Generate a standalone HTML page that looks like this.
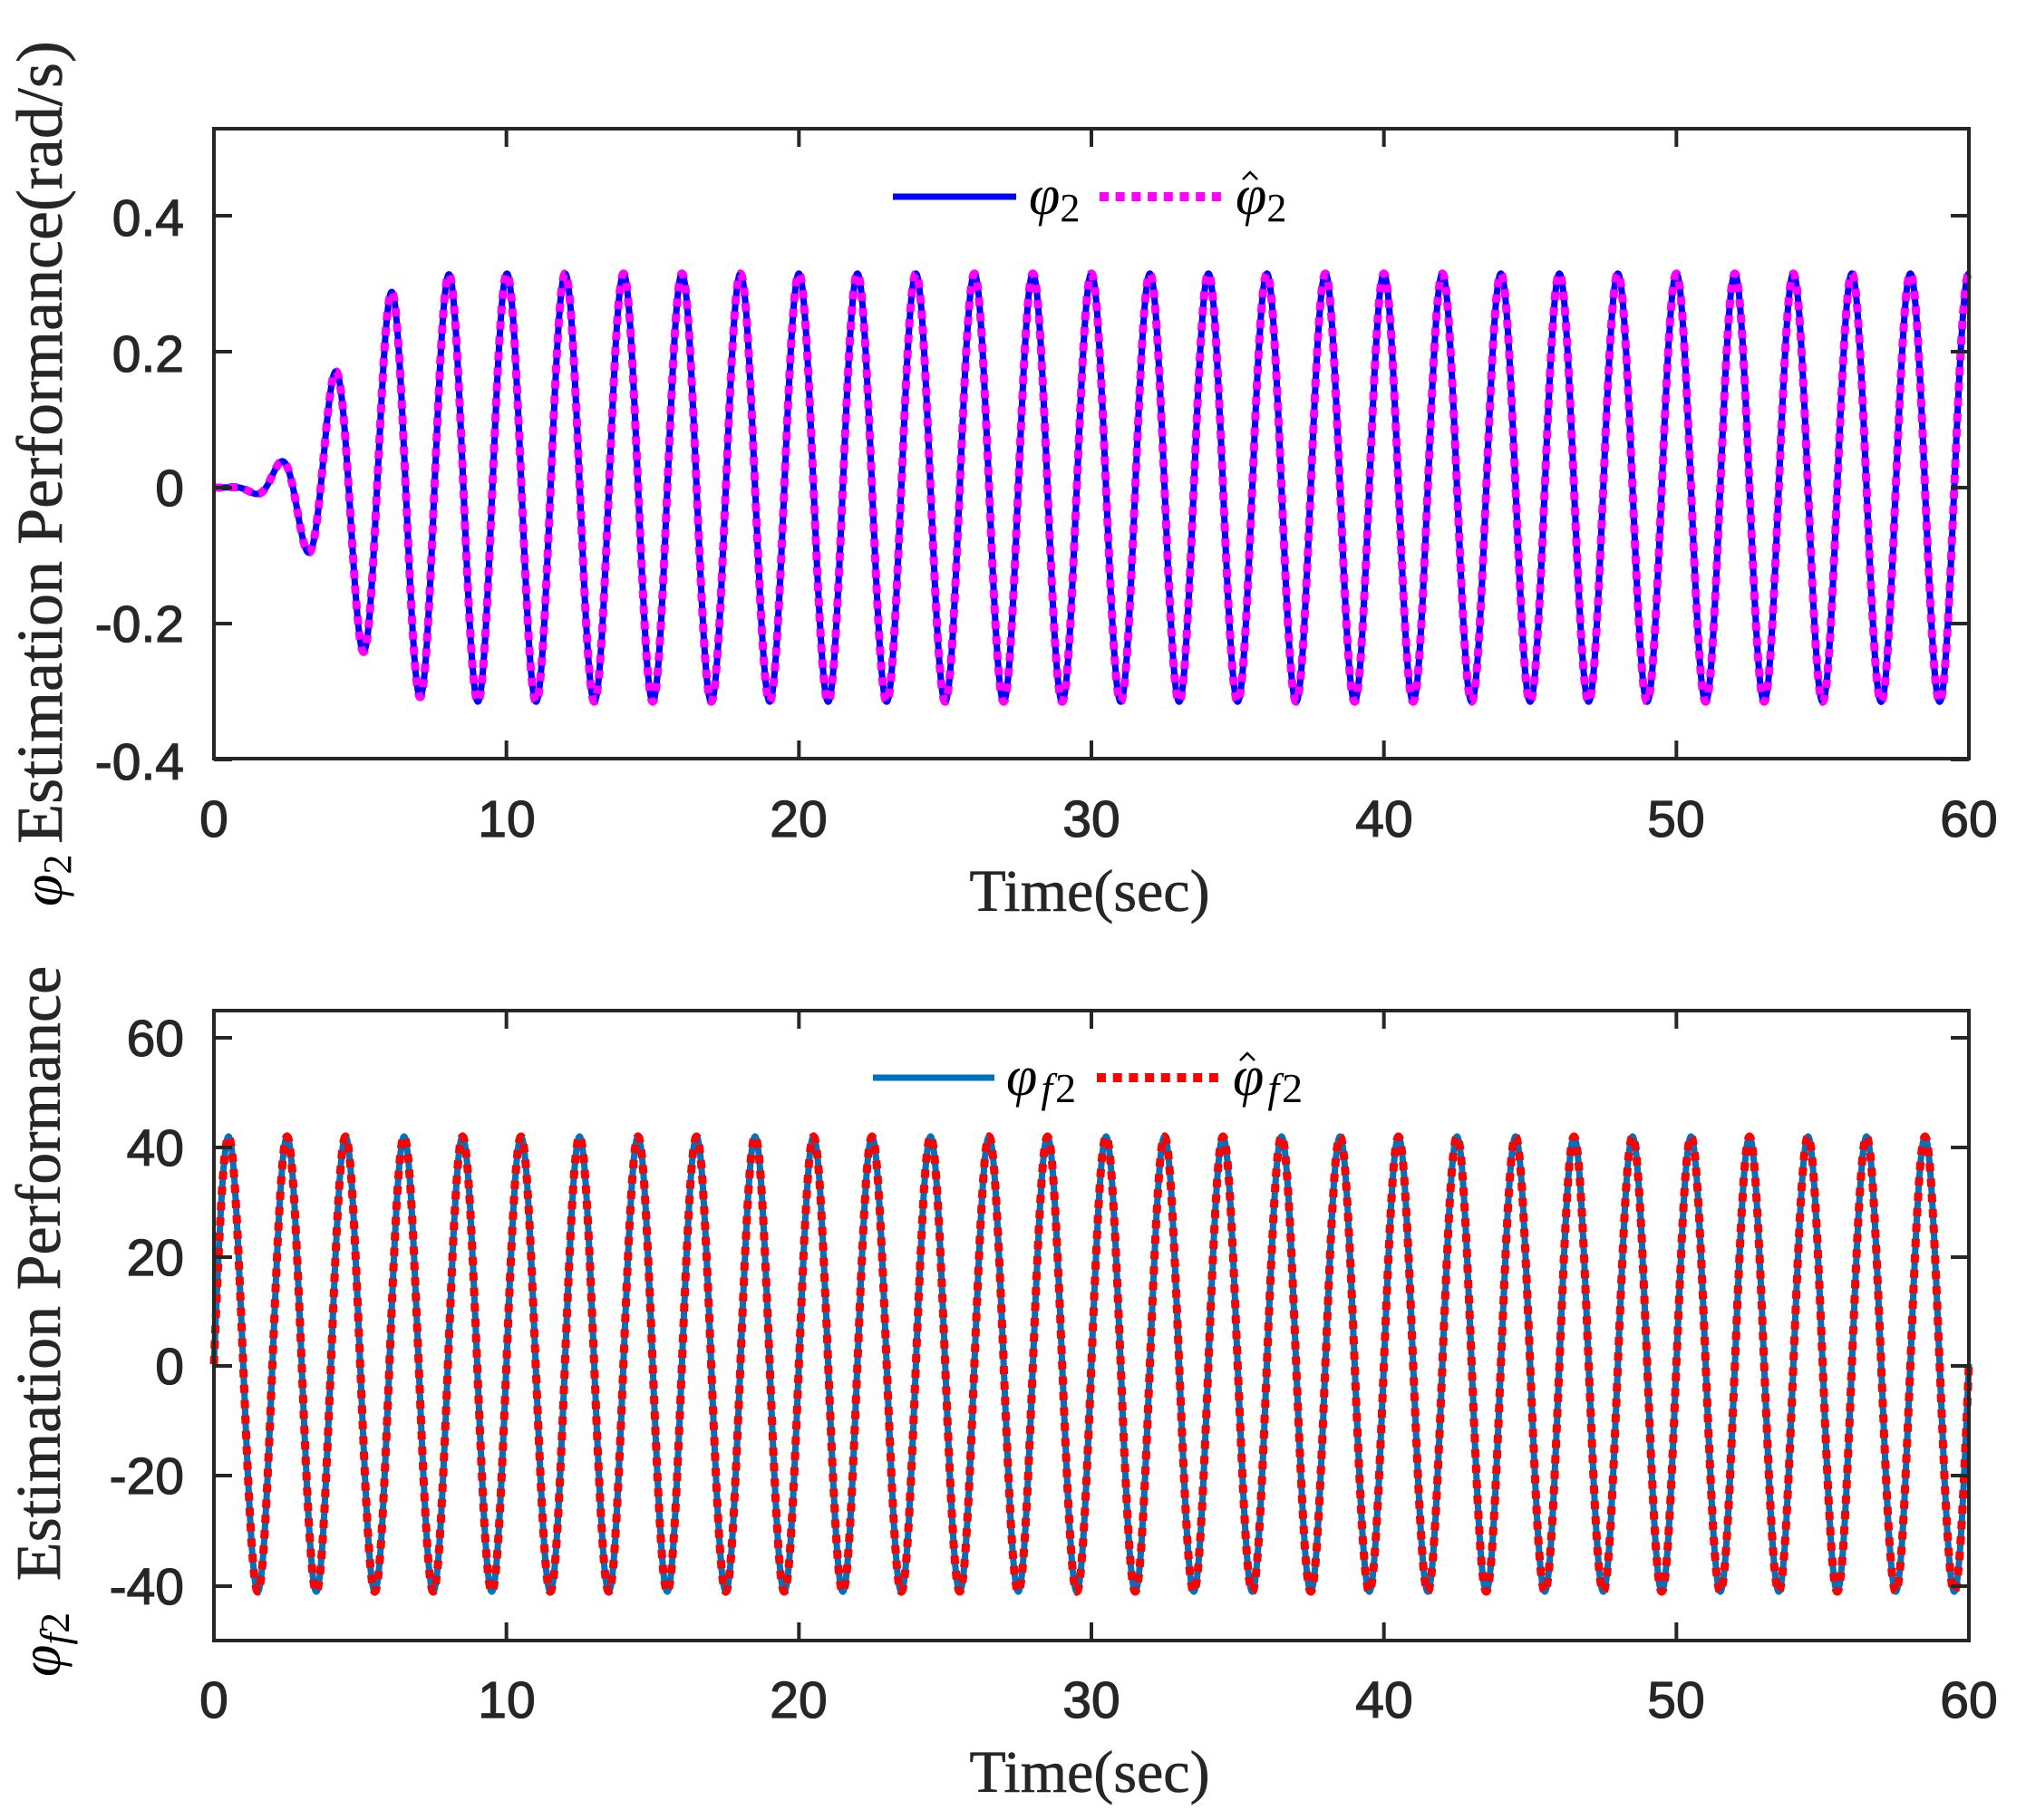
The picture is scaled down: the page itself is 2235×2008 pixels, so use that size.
<!DOCTYPE html>
<html><head><meta charset="utf-8"><style>
html,body{margin:0;padding:0;background:#fff;}
svg{display:block;}
.t{font-family:"Liberation Sans",Arial,sans-serif;font-size:57px;fill:#262626;stroke:#262626;stroke-width:1.2;}
.s{font-family:"Liberation Serif","Times New Roman",serif;font-size:66px;fill:#262626;stroke:#262626;stroke-width:0.6;}
.m{font-family:"Liberation Serif","Times New Roman",serif;font-style:italic;fill:#000;}
</style></head><body>
<svg id="c" width="2235" height="2008" viewBox="0 0 2235 2008" xmlns="http://www.w3.org/2000/svg">
<rect width="2235" height="2008" fill="#fff"/>
<g id="g1"></g>
<g id="g2"></g>
<rect x="236" y="142" width="1936" height="695" fill="none" stroke="#262626" stroke-width="4"/>
<g class="t" text-anchor="end">
<text x="203" y="260">0.4</text><text x="203" y="410">0.2</text><text x="203" y="558">0</text>
<text x="203" y="708">-0.2</text><text x="203" y="860">-0.4</text>
</g>
<g class="t" text-anchor="middle">
<text x="236" y="923">0</text><text x="559" y="923">10</text><text x="881" y="923">20</text><text x="1204" y="923">30</text>
<text x="1527" y="923">40</text><text x="1849" y="923">50</text><text x="2172" y="923">60</text>
</g>
<text class="s" x="1202" y="1005" text-anchor="middle">Time(sec)</text>
<text class="s" style="font-size:72px" transform="translate(68,488) rotate(-90)" text-anchor="middle">Estimation Performance(rad/s)</text>
<text class="m" font-size="64" transform="translate(68,1000) rotate(-90)">φ<tspan font-size="44" font-style="normal" dy="10">2</tspan></text>
<line x1="985" y1="217" x2="1121" y2="217" stroke="#0000ff" stroke-width="7"/>
<text class="m" x="1135" y="236" font-size="62">φ<tspan font-size="44" font-style="normal" dy="8">2</tspan></text>
<line x1="1213" y1="217" x2="1348" y2="217" stroke="#ff00ff" stroke-width="10" stroke-dasharray="10,7.7"/>
<text class="m" x="1363" y="236" font-size="62">φ<tspan font-size="44" font-style="normal" dy="8">2</tspan></text>
<path d="M1371 198 L1379 190 L1387 198" fill="none" stroke="#000" stroke-width="2.5"/>
<rect x="236" y="1115" width="1936" height="695" fill="none" stroke="#262626" stroke-width="4"/>
<g class="t" text-anchor="end">
<text x="203" y="1165">60</text><text x="203" y="1286">40</text><text x="203" y="1407">20</text><text x="203" y="1527">0</text>
<text x="203" y="1648">-20</text><text x="203" y="1770">-40</text>
</g>
<g class="t" text-anchor="middle">
<text x="236" y="1895">0</text><text x="559" y="1895">10</text><text x="881" y="1895">20</text><text x="1204" y="1895">30</text>
<text x="1527" y="1895">40</text><text x="1849" y="1895">50</text><text x="2172" y="1895">60</text>
</g>
<text class="s" x="1202" y="1977" text-anchor="middle">Time(sec)</text>
<text class="s" style="font-size:70px" transform="translate(66,1405) rotate(-90)" text-anchor="middle">Estimation Performance</text>
<text class="m" font-size="64" transform="translate(66,1850) rotate(-90)">φ<tspan font-size="46" dy="10">f</tspan><tspan font-size="46" font-style="normal">2</tspan></text>
<line x1="963" y1="1189" x2="1097" y2="1189" stroke="#0072bd" stroke-width="7"/>
<text class="m" x="1110" y="1208" font-size="62">φ<tspan font-size="46" dy="8" dx="4">f</tspan><tspan font-size="46" font-style="normal" dx="3">2</tspan></text>
<line x1="1210" y1="1189" x2="1345" y2="1189" stroke="#ff0000" stroke-width="10" stroke-dasharray="10,7.7"/>
<text class="m" x="1360" y="1208" font-size="62">φ<tspan font-size="46" dy="8" dx="4">f</tspan><tspan font-size="46" font-style="normal" dx="3">2</tspan></text>
<path d="M1368 1170 L1376 1162 L1384 1170" fill="none" stroke="#000" stroke-width="2.5"/>
<g id="ticks" stroke="#262626" stroke-width="4"></g>
</svg>
<script>
(function(){
var NS="http://www.w3.org/2000/svg";
function X(t){return 236+t*1936/60;}
function mk(g,d,col,w,dash){var p=document.createElementNS(NS,"path");p.setAttribute("d",d);p.setAttribute("fill","none");p.setAttribute("stroke",col);p.setAttribute("stroke-width",w);p.setAttribute("stroke-linejoin","round");if(dash)p.setAttribute("stroke-dasharray",dash);document.getElementById(g).appendChild(p);}
var d1="",d2="";
for(var i=0;i<=3000;i++){var t=i*0.02;
 var env=0.315*(1-Math.exp(-Math.pow(t/4.5,3)));
 var d=0.5*Math.exp(-t/3);
 var v=env*Math.cos(Math.PI*(t-d));
 var y=538-v*750;
 d1+=(i?"L":"M")+X(t).toFixed(1)+" "+y.toFixed(1);
 var v2=41.5*Math.sin(Math.PI*t);
 var y2=1505-v2*6.05;
 d2+=(i?"L":"M")+X(t).toFixed(1)+" "+y2.toFixed(1);
}
mk("g1",d1,"#0000ff",7);mk("g1",d1,"#ff00ff",9,"9,8");
mk("g2",d2,"#0072bd",7);mk("g2",d2,"#ff0000",9,"9,8");
var tk=document.getElementById("ticks"),s="";
for(var k=0;k<=6;k++){var x=X(k*10);
 s+="M"+x+" 142v20M"+x+" 837v-20M"+x+" 1115v20M"+x+" 1810v-20";}
[238,388,538,688,838].forEach(function(y){s+="M236 "+y+"h20M2172 "+y+"h-20";});
[1145,1266,1387,1507,1628,1750].forEach(function(y){s+="M236 "+y+"h20M2172 "+y+"h-20";});
var p=document.createElementNS(NS,"path");p.setAttribute("d",s);tk.appendChild(p);
})();
</script>
</body></html>
